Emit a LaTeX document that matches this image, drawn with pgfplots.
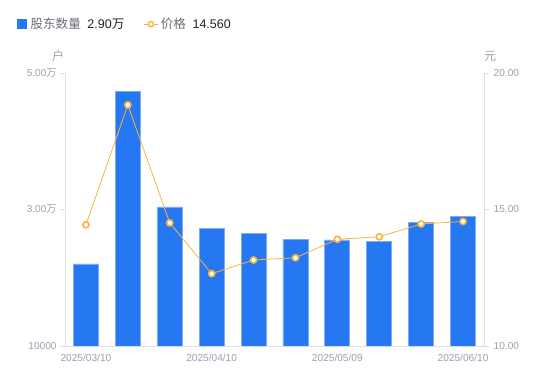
\documentclass[border=0pt]{standalone}
\usepackage{pgfplots}
\pgfplotsset{compat=1.18}
\usepackage{fontspec}
\setmainfont{Liberation Sans}
\newfontfamily\cjk{Noto Sans CJK SC}
\definecolor{barblue}{RGB}{38,119,242}
\definecolor{baredge}{RGB}{125,170,248}
\definecolor{lineorange}{RGB}{250,180,60}
\definecolor{tickgray}{RGB}{155,160,175}
\definecolor{axgray}{RGB}{222,224,230}
\definecolor{legtext}{RGB}{105,110,120}
\definecolor{valtext}{RGB}{35,35,40}
\begin{document}
\begin{tikzpicture}[x=0.75pt,y=0.75pt]
\path[use as bounding box] (0,0) rectangle (550,381);
\pgfplotsset{
  base/.style={
    at={(48.75pt,26.25pt)}, anchor=south west,
    scale only axis, width=314.25pt, height=204.75pt,
    xmin=-0.5, xmax=9.5,
    axis line style={draw=axgray, line width=0.6pt},
    tick style={draw=axgray, line width=0.6pt},
    major tick length=3.75pt,
    tick align=outside,
    ticklabel style={font=\fontsize{7.6}{9}\selectfont, text=tickgray},
    /pgf/number format/assume math mode=true,
    scaled y ticks=false,
  }
}
\begin{axis}[base,
  ymin=10000, ymax=50000,
  axis x line*=bottom, axis y line*=left,
  xtick={0,3,6,9},
  xticklabels={2025/03/10,2025/04/10,2025/05/09,2025/06/10},
  x tick style={draw=none},
  xticklabel style={yshift=1pt},
  ytick={10000,30000,50000},
  yticklabels={{10000},{3.00{\cjk 万}},{5.00{\cjk 万}}},
  yticklabel style={xshift=1pt},
  ybar, bar width=18.75pt, bar shift=0pt,
]
\addplot[fill=barblue, draw=baredge, line width=0.6pt] coordinates {
 (0,22015) (1,47260) (2,30366) (3,27245) (4,26513)
 (5,25634) (6,25531) (7,25282) (8,28066) (9,29000)
};
\end{axis}
\begin{axis}[base,
  ymin=10, ymax=20,
  axis x line=none, axis y line*=right,
  ytick={10,15,20},
  yticklabels={10.00,15.00,20.00},
  legend style={at={(-0.115,1.179)}, anchor=west, draw=none, fill=none,
    font=\fontsize{9.4}{11}\selectfont, inner sep=0pt,
    /tikz/every even column/.style={column sep=12.5pt}},
  legend columns=2, legend cell align=left,
]
\addlegendimage{legend image code/.code={\fill[barblue] (0pt,-3.4pt) rectangle (6.8pt,3.4pt);}}
\addlegendentry{\hspace{1pt}{\cjk\color{legtext}股东数量}\hspace{5pt}{\color{valtext}2.90{\cjk 万}}}
\addplot[lineorange, line width=0.6pt, mark=*, mark size=2.3pt,
  mark options={fill=white, draw=lineorange, line width=1.2pt},
  legend image code/.code={\draw[lineorange, line width=0.8pt] (0pt,0pt) -- (10pt,0pt);
    \draw[lineorange, fill=white, line width=1.1pt] (5pt,0pt) circle (2pt);}] coordinates {
 (0,14.44) (1,18.83) (2,14.51) (3,12.65) (4,13.15)
 (5,13.23) (6,13.91) (7,14.00) (8,14.47) (9,14.56)
};
\addlegendentry{{\cjk\color{legtext}价格}\hspace{5pt}{\color{valtext}14.560}}
\end{axis}
\node[font=\cjk\fontsize{9}{10}\selectfont, text=tickgray] at (58,325) {户};
\node[font=\cjk\fontsize{9}{10}\selectfont, text=tickgray] at (490,325) {元};
\end{tikzpicture}
\end{document}
